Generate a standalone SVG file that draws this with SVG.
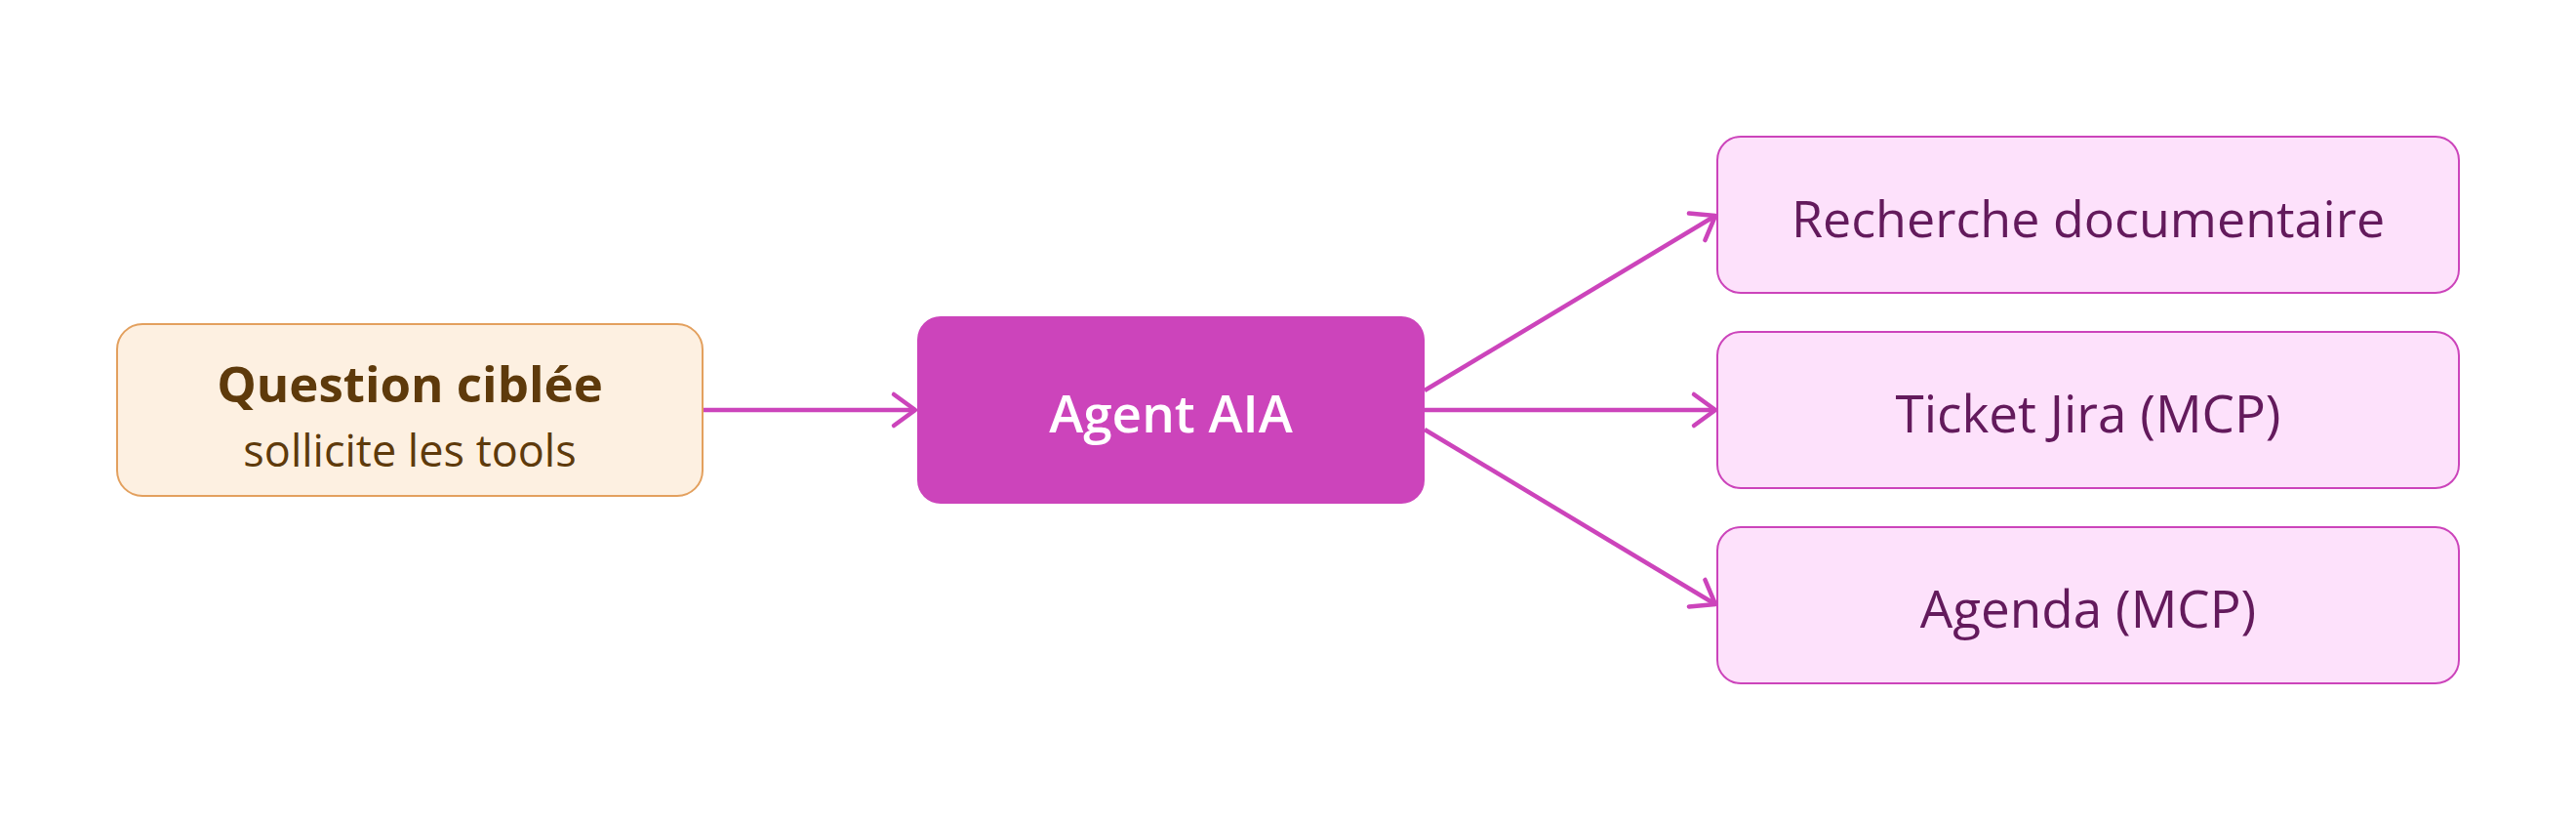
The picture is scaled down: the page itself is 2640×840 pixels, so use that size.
<svg xmlns="http://www.w3.org/2000/svg" width="2640" height="840" viewBox="0 0 2640 840">
<style>
  text { font-family: "Segoe UI", "Open Sans", "Noto Sans", sans-serif; text-anchor: middle; }
  .src rect { fill: #FDF0E1; stroke: #E3A05E; stroke-width: 2; }
  .src .t1 { fill: #5E3A0B; font-size: 51px; font-weight: 700; }
  .src .t2 { fill: #5E3A0B; font-size: 45px; }
  .agent rect { fill: #CC44BB; }
  .agent text { fill: #FFFFFF; font-size: 53px; font-weight: 600; }
  .tool rect { fill: #FDE1FB; stroke: #CC44BB; stroke-width: 2; }
  .tool text { fill: #631A5C; font-size: 53px; }
  .tool text.r { font-size: 52px; }
  .edge { stroke: #CC44BB; stroke-width: 4.5; fill: none; marker-end: url(#arrow); }
</style>
<defs>
  <marker id="arrow" markerUnits="userSpaceOnUse" viewBox="0 0 30 40" markerWidth="30" markerHeight="40" refX="26" refY="20" orient="auto">
    <path d="M4,4 L26,20 L4,36" fill="none" stroke="#CC44BB" stroke-width="4.5" stroke-linecap="round" stroke-linejoin="round"/>
  </marker>
</defs>
<rect width="2640" height="840" fill="#FFFFFF"/>
<g id="connectors">
  <line class="edge" x1="720" y1="420" x2="938" y2="420"/>
  <line class="edge" x1="1460" y1="400" x2="1758" y2="221"/>
  <line class="edge" x1="1460" y1="420" x2="1758" y2="420"/>
  <line class="edge" x1="1460" y1="440" x2="1758" y2="619"/>
</g>
<g id="question" class="src">
  <rect x="120" y="332" width="600" height="176" rx="26"/>
  <text class="t1" x="420" y="412">Question ciblée</text>
  <text class="t2" x="420" y="478">sollicite les tools</text>
</g>
<g id="agent" class="agent">
  <rect x="940" y="324" width="520" height="192" rx="24"/>
  <text x="1200" y="443">Agent AIA</text>
</g>
<g id="recherche" class="tool">
  <rect x="1760" y="140" width="760" height="160" rx="24"/>
  <text class="r" x="2140" y="243">Recherche documentaire</text>
</g>
<g id="jira" class="tool">
  <rect x="1760" y="340" width="760" height="160" rx="24"/>
  <text x="2140" y="443">Ticket Jira (MCP)</text>
</g>
<g id="agenda" class="tool">
  <rect x="1760" y="540" width="760" height="160" rx="24"/>
  <text x="2140" y="643">Agenda (MCP)</text>
</g>
</svg>
